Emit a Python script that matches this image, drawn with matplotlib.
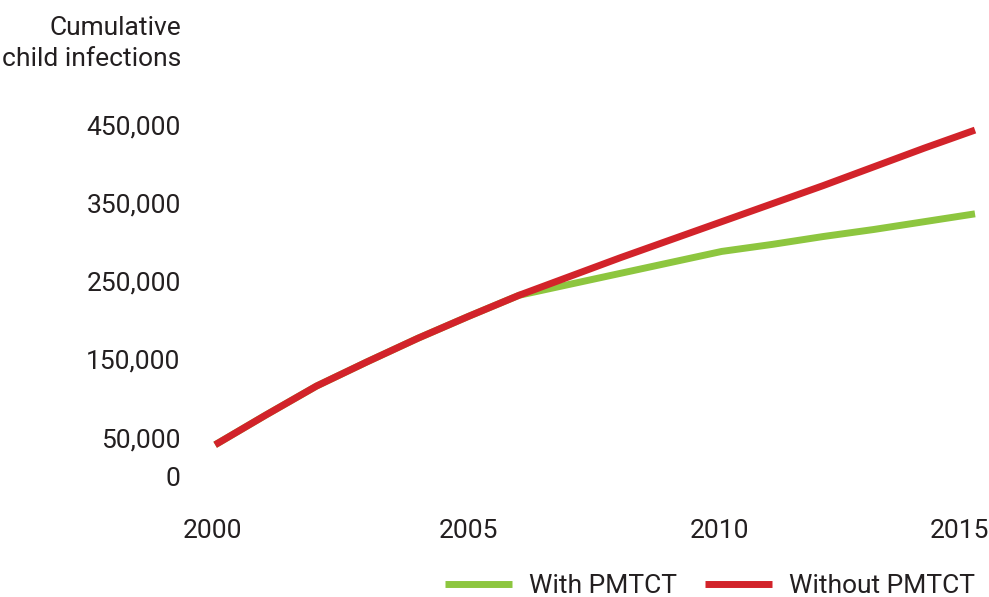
"""Cumulative child infections, with and without PMTCT, 2000-2015."""

import matplotlib
matplotlib.use("Agg")
import matplotlib.pyplot as plt
from matplotlib.transforms import ScaledTranslation

# ── Data ───────────────────────────────────────────────────────────────
YEARS = list(range(2000, 2016))
WITHOUT_PMTCT = [41_000, 79_000, 116_000, 147_000, 177_000, 205_000, 232_000,
                 256_000, 280_000, 303_000, 326_000, 349_000, 372_000,
                 396_000, 420_000, 443_000]
WITH_PMTCT = [41_000, 79_000, 116_000, 147_000, 177_000, 205_000, 232_000,
              246_000, 260_000, 274_000, 288_000, 297_000, 307_000,
              316_000, 326_000, 336_000]

Y_TICKS = [0, 50_000, 150_000, 250_000, 350_000, 450_000]
X_TICKS = [2000, 2005, 2010, 2015]

GREEN = "#8DC63F"
RED = "#D2232A"
TEXT = "#231F20"
FS = 19

plt.rcParams["font.family"] = ["Roboto", "DejaVu Sans"]

fig = plt.figure(figsize=(9.89, 5.97), dpi=100)
ax = fig.add_axes([0.1981, 0.2012, 0.798, 0.6032])

ax.plot(YEARS, WITH_PMTCT, color=GREEN, lw=5, solid_capstyle="butt",
        label="With PMTCT")
ax.plot(YEARS, WITHOUT_PMTCT, color=RED, lw=5, solid_capstyle="butt",
        label="Without PMTCT")

ax.set_xlim(1999.62, 2015.2)
ax.set_ylim(0, 460_000)
ax.set_xticks(X_TICKS)
ax.set_yticks(Y_TICKS)
ax.set_yticklabels([f"{v:,}" for v in Y_TICKS])
ax.tick_params(axis="both", length=0, labelsize=FS, labelcolor=TEXT)
ax.tick_params(axis="y", pad=11)
ax.tick_params(axis="x", pad=30)
for s in ax.spines.values():
    s.set_visible(False)

# the year labels sit slightly left of their data positions in the original
x_shift = [-3, 0, -2, -16]
for lab, dx in zip(ax.get_xticklabels(), x_shift):
    lab.set_transform(lab.get_transform()
                      + ScaledTranslation(dx / 100, 0, fig.dpi_scale_trans))

fig.text(181 / 989, 1 - 16 / 597, "Cumulative\nchild infections",
         ha="right", va="top", fontsize=FS, color=TEXT, linespacing=1.37)

leg = ax.legend(loc="lower right", bbox_to_anchor=(975 / 989, -1 / 597),
                bbox_transform=fig.transFigure, ncol=2, frameon=False,
                fontsize=FS, handlelength=2.55, handletextpad=0.64,
                columnspacing=1.06, borderpad=0, borderaxespad=0)
for t in leg.get_texts():
    t.set_color(TEXT)

fig.savefig("out.png", dpi=100)
